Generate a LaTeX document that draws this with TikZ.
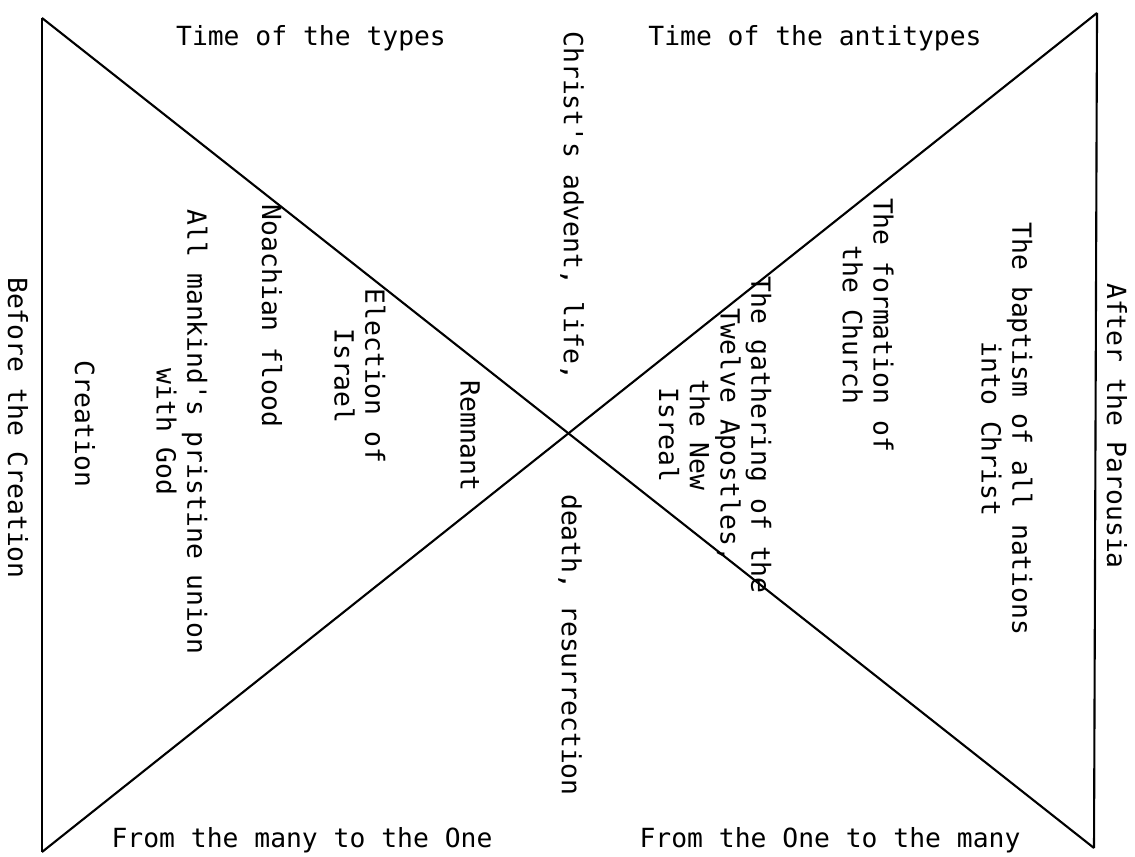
\documentclass[tikz,border=0pt]{standalone}
\usepackage{fontspec}
\setmonofont{DejaVu Sans Mono}
\begin{document}
\begin{tikzpicture}[x=0.02cm, y=-0.02cm, line width=1.2pt,
  every node/.style={font=\ttfamily\fontsize{15}{17.5}\selectfont, inner sep=0pt},
  vlabel/.style={rotate=-90, align=center}]
\useasboundingbox (0,0) rectangle (1135,857);
% corners of the hourglass
\coordinate (tl) at (42,18);
\coordinate (tr) at (1097,13);
\coordinate (bl) at (42,852);
\coordinate (br) at (1094,848);
\draw (tl) -- (bl);
\draw (tr) -- (br);
\draw (tl) -- (br);
\draw (bl) -- (tr);

% headings top and bottom
\node (types) at (311,38) {Time of the types};
\node (antitypes) at (815,38) {Time of the antitypes};
\node (manyone) at (302,840) {From the many to the One};
\node (onemany) at (830,840) {From the One to the many};

% outer sides
\node[vlabel] (before) at (18,428) {Before the Creation};
\node[vlabel] (after) at (1117,426) {After the Parousia};

% types
\node[vlabel] (creation) at (85,424) {Creation};
\node[vlabel] (mankind) at (182,432) {All mankind's pristine union\\with God};
\node[vlabel] (flood) at (272,316) {Noachian flood};
\node[vlabel] (election) at (360,376) {Election of\\Israel};
\node[vlabel] (remnant) at (470,436) {Remnant};

% centre
\node[vlabel] (advent) at (572,206) {Christ's advent, life,};
\node[vlabel] (death) at (570,645) {death, resurrection};

% antitypes
\node[vlabel] (gathering) at (715,435) {The gathering of the\\Twelve Apostles,\\the New\\Isreal};
\node[vlabel] (church) at (868,325) {The formation of\\the Church};
\node[vlabel] (baptism) at (1007,429) {The baptism of all nations\\into Christ};
\end{tikzpicture}
\end{document}
